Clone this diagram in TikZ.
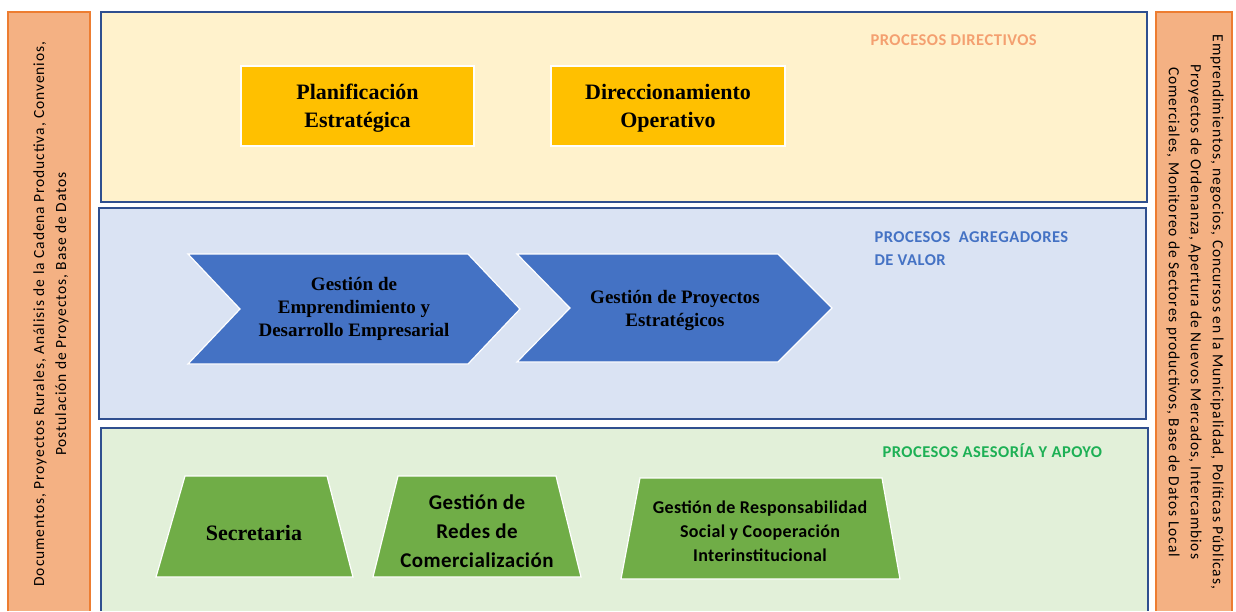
\documentclass[tikz,border=0pt]{standalone}
\usepackage{fontspec}
\setmainfont{Liberation Serif}
\newfontfamily\calfont{Carlito}
\newfontfamily\sidefont[LetterSpace=6]{Carlito}
\newfontfamily\titlefont[LetterSpace=3]{Carlito}
\newfontfamily\boxfont[LetterSpace=2]{Carlito}
\definecolor{sidefill}{HTML}{F4B183}
\definecolor{sideline}{HTML}{ED7D31}
\definecolor{panelline}{HTML}{2F4F8F}
\definecolor{yfill}{HTML}{FFF2CC}
\definecolor{bfill}{HTML}{DAE3F3}
\definecolor{gfill}{HTML}{E2F0D9}
\definecolor{gold}{HTML}{FFC000}
\definecolor{chev}{HTML}{4472C4}
\definecolor{trap}{HTML}{70AD47}
\definecolor{tOrange}{HTML}{F4A070}
\definecolor{tBlue}{HTML}{4472C4}
\definecolor{tGreen}{HTML}{1DB055}
\tikzset{
  sidebox/.style={fill=sidefill},
  sideedge/.style={draw=sideline, line width=1.2pt},
  panel/.style={draw=panelline, line width=1.5pt},
  goldbox/.style={fill=gold, draw=white, line width=1.2pt},
  goldtext/.style={align=center, font=\bfseries\fontsize{22}{28}\selectfont},
  chevshape/.style={fill=chev, draw=white, line width=1.2pt},
  chevtext/.style={align=center, font=\bfseries\fontsize{19}{23}\selectfont},
  trapshape/.style={fill=trap, draw=white, line width=1.2pt},
  title/.style={anchor=west, align=left, font=\titlefont\bfseries\fontsize{16.5}{23}\selectfont},
  sidetext/.style={align=center, font=\sidefont\fontsize{15.5}{22}\selectfont},
}
\begin{document}
\begin{tikzpicture}[x=1pt,y=-1pt]
\useasboundingbox (0,0) rectangle (1236,611);
% side panels
\fill[sidebox] (8,12) rectangle (90,611);
\draw[sideedge] (8,611) -- (8,12) -- (90,12) -- (90,611);
\fill[sidebox] (1156,12) rectangle (1232,611);
\draw[sideedge] (1156,611) -- (1156,12) -- (1232,12) -- (1232,611);
\node[sidetext, rotate=90] (lefttext) at (51,314)
  {Documentos, Proyectos Rurales, Análisis de la Cadena Productiva, Convenios,\\
   Postulación de Proyectos, Base de Datos};
\node[sidetext, rotate=-90] (righttext) at (1195,312)
  {Emprendimientos, negocios, Concursos en la Municipalidad, Políticas Públicas,\\
   Proyectos de Ordenanza, Apertura de Nuevos Mercados, Intercambios\\
   Comerciales, Monitoreo de Sectores productivos, Base de Datos Local};
% process panels
\filldraw[panel, fill=yfill] (101,12) rectangle (1147,202);
\filldraw[panel, fill=bfill] (99,208) rectangle (1146,419);
\fill[gfill] (101,428) rectangle (1148,611);
\draw[panel] (101,611) -- (101,428) -- (1148,428) -- (1148,611);
% titles
\node[title, text=tOrange] (t1) at (867,40) {PROCESOS DIRECTIVOS};
\node[title, text=tBlue, anchor=north west] (t2) at (871,228) {PROCESOS\ \ AGREGADORES\\DE VALOR};
\node[title, text=tGreen] (t3) at (879,451) {PROCESOS ASESORÍA Y APOYO};
% top boxes
\filldraw[goldbox] (241,66) rectangle (474,146);
\filldraw[goldbox] (551,66) rectangle (785,146);
\node[goldtext] (plan) at (357.5,108) {Planificación\\Estratégica};
\node[goldtext] (dir) at (668,108) {Direccionamiento\\Operativo};
% chevrons
\filldraw[chevshape] (188,254) -- (468,254) -- (520,309) -- (468,364) -- (188,364) -- (240,309) -- cycle;
\filldraw[chevshape] (517,254) -- (778,254) -- (832,308) -- (778,362) -- (517,362) -- (570,308) -- cycle;
\node[chevtext] (c1) at (354,309) {Gestión de\\Emprendimiento y\\Desarrollo Empresarial};
\node[chevtext] (c2) at (675,310) {Gestión de Proyectos\\Estratégicos};
% trapezoids
\filldraw[trapshape] (185,476) -- (327,476) -- (353,577) -- (156,577) -- cycle;
\filldraw[trapshape] (398,476) -- (556,476) -- (581,577) -- (373,577) -- cycle;
\filldraw[trapshape] (640,478) -- (882,478) -- (900,579) -- (621,579) -- cycle;
\node[align=center, font=\bfseries\fontsize{22}{28}\selectfont] (s1) at (254,533) {Secretaria};
\node[align=center, font=\boxfont\bfseries\fontsize{21}{29}\selectfont] (s2) at (477,531)
  {Gestión de\\Redes de\\Comercialización};
\node[align=center, font=\boxfont\bfseries\fontsize{18}{24}\selectfont] (s3) at (760,531)
  {Gestión de Responsabilidad\\Social y Cooperación\\Interinstitucional};
\end{tikzpicture}
\end{document}
